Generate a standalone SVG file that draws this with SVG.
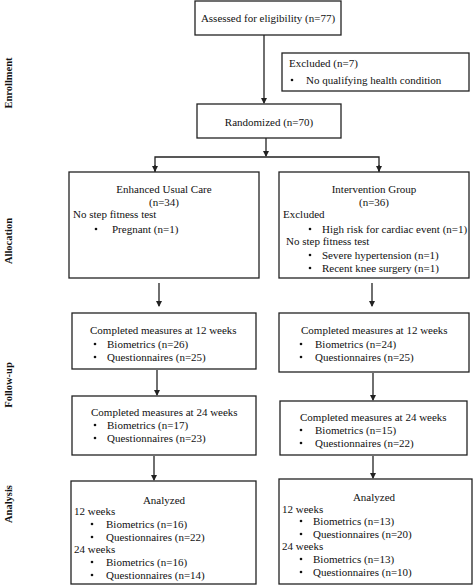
<svg xmlns="http://www.w3.org/2000/svg" width="474" height="586" viewBox="0 0 474 586">
<style>
.box{fill:#fff;stroke:#222;stroke-width:1.3}
text{font-family:"Liberation Serif","Times New Roman",serif;font-size:11px;fill:#111}
.c{text-anchor:middle}
.side{font-weight:bold;font-size:10.5px;text-anchor:middle}
.ln{stroke:#222;stroke-width:1.3;fill:none}
</style>
<defs>
<marker id="ah" markerWidth="6" markerHeight="6" refX="5" refY="3" orient="auto" markerUnits="userSpaceOnUse">
<path d="M0,0 L6,3 L0,6 z" fill="#222"/>
</marker>
</defs>
<rect x="0" y="0" width="474" height="586" fill="#fff"/>

<g id="side-labels">
<text class="side" transform="translate(12,83) rotate(-90)">Enrollment</text>
<text class="side" transform="translate(12,241) rotate(-90)">Allocation</text>
<text class="side" transform="translate(12,385) rotate(-90)">Follow-up</text>
<text class="side" transform="translate(12,504) rotate(-90)">Analysis</text>
</g>

<g id="connectors">
<line class="ln" x1="264" y1="35" x2="264" y2="103" marker-end="url(#ah)"/>
<line class="ln" x1="266" y1="138" x2="266" y2="156" marker-end="url(#ah)"/>
<polyline class="ln" points="155,172 155,157 379,157 379,172"/>
<line class="ln" x1="155" y1="165" x2="155" y2="171" marker-end="url(#ah)"/>
<line class="ln" x1="379" y1="165" x2="379" y2="171" marker-end="url(#ah)"/>
<line class="ln" x1="159" y1="283" x2="159" y2="306" marker-end="url(#ah)"/>
<line class="ln" x1="372" y1="283" x2="372" y2="306" marker-end="url(#ah)"/>
<line class="ln" x1="157" y1="370" x2="157" y2="395" marker-end="url(#ah)"/>
<line class="ln" x1="373" y1="373" x2="373" y2="400" marker-end="url(#ah)"/>
<line class="ln" x1="154" y1="456" x2="154" y2="480" marker-end="url(#ah)"/>
<line class="ln" x1="373" y1="456" x2="373" y2="478" marker-end="url(#ah)"/>
</g>

<g id="assessed">
<rect class="box" x="195" y="1" width="146" height="34"/>
<text class="c" x="268" y="22">Assessed for eligibility (n=77)</text>
</g>

<g id="excluded">
<rect class="box" x="282" y="53" width="187" height="38"/>
<text x="289" y="67">Excluded (n=7)</text>
<circle cx="292" cy="80" r="1.3" fill="#111"/>
<text x="306" y="84">No qualifying health condition</text>
</g>

<g id="randomized">
<rect class="box" x="197" y="104" width="144" height="34"/>
<text class="c" x="269" y="126">Randomized (n=70)</text>
</g>

<g id="usual-care">
<rect class="box" x="69" y="172" width="190" height="106"/>
<text class="c" x="164" y="193">Enhanced Usual Care</text>
<text class="c" x="164" y="206">(n=34)</text>
<text x="73" y="218">No step fitness test</text>
<circle cx="96" cy="229" r="1.3" fill="#111"/>
<text x="112" y="233">Pregnant (n=1)</text>
</g>

<g id="intervention">
<rect class="box" x="279" y="172" width="190" height="106"/>
<text class="c" x="374" y="193">Intervention Group</text>
<text class="c" x="374" y="206">(n=36)</text>
<text x="283" y="218">Excluded</text>
<circle cx="310" cy="229" r="1.3" fill="#111"/>
<text x="322" y="233">High risk for cardiac event (n=1)</text>
<text x="286" y="245">No step fitness test</text>
<circle cx="310" cy="255" r="1.3" fill="#111"/>
<text x="322" y="259">Severe hypertension (n=1)</text>
<circle cx="310" cy="268" r="1.3" fill="#111"/>
<text x="322" y="272">Recent knee surgery (n=1)</text>
</g>

<g id="usual-12">
<rect class="box" x="72" y="313" width="184" height="56"/>
<text x="90" y="334">Completed measures at 12 weeks</text>
<circle cx="95" cy="344" r="1.3" fill="#111"/>
<text x="107" y="348">Biometrics (n=26)</text>
<circle cx="95" cy="357" r="1.3" fill="#111"/>
<text x="107" y="361">Questionnaires (n=25)</text>
</g>

<g id="intervention-12">
<rect class="box" x="279" y="313" width="190" height="59"/>
<text x="301" y="334">Completed measures at 12 weeks</text>
<circle cx="301" cy="344" r="1.3" fill="#111"/>
<text x="315" y="348">Biometrics (n=24)</text>
<circle cx="301" cy="357" r="1.3" fill="#111"/>
<text x="315" y="361">Questionnaires (n=25)</text>
</g>

<g id="usual-24">
<rect class="box" x="72" y="396" width="184" height="59"/>
<text x="91" y="416">Completed measures at 24 weeks</text>
<circle cx="95" cy="425" r="1.3" fill="#111"/>
<text x="107" y="429">Biometrics (n=17)</text>
<circle cx="95" cy="438" r="1.3" fill="#111"/>
<text x="107" y="442">Questionnaires (n=23)</text>
</g>

<g id="intervention-24">
<rect class="box" x="280" y="401" width="187" height="54"/>
<text x="300" y="421">Completed measures at 24 weeks</text>
<circle cx="301" cy="430" r="1.3" fill="#111"/>
<text x="315" y="434">Biometrics (n=15)</text>
<circle cx="301" cy="443" r="1.3" fill="#111"/>
<text x="315" y="447">Questionnaires (n=22)</text>
</g>

<g id="usual-analyzed">
<rect class="box" x="71" y="481" width="185" height="103"/>
<text class="c" x="164" y="504">Analyzed</text>
<text x="74" y="515">12 weeks</text>
<circle cx="92" cy="524" r="1.3" fill="#111"/>
<text x="106" y="528">Biometrics (n=16)</text>
<circle cx="92" cy="537" r="1.3" fill="#111"/>
<text x="106" y="541">Questionnaires (n=22)</text>
<text x="74" y="553">24 weeks</text>
<circle cx="92" cy="562" r="1.3" fill="#111"/>
<text x="106" y="566">Biometrics (n=16)</text>
<circle cx="92" cy="575" r="1.3" fill="#111"/>
<text x="106" y="579">Questionnaires (n=14)</text>
</g>

<g id="intervention-analyzed">
<rect class="box" x="279" y="479" width="193" height="105"/>
<text class="c" x="374" y="501">Analyzed</text>
<text x="282" y="513">12 weeks</text>
<circle cx="301" cy="521" r="1.3" fill="#111"/>
<text x="313" y="525">Biometrics (n=13)</text>
<circle cx="301" cy="534" r="1.3" fill="#111"/>
<text x="313" y="538">Questionnaires (n=20)</text>
<text x="282" y="550">24 weeks</text>
<circle cx="301" cy="559" r="1.3" fill="#111"/>
<text x="313" y="563">Biometrics (n=13)</text>
<circle cx="301" cy="572" r="1.3" fill="#111"/>
<text x="313" y="576">Questionnaires (n=10)</text>
</g>
</svg>
